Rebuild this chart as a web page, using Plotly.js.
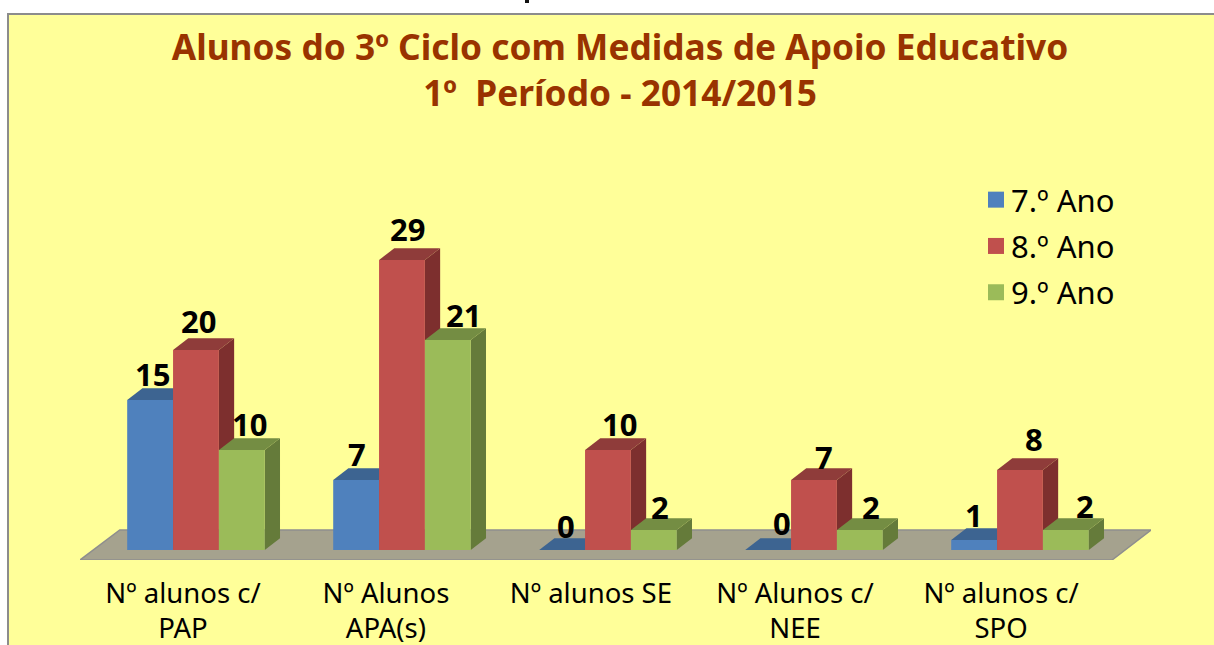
<!DOCTYPE html>
<html><head><meta charset="utf-8">
<script src="https://cdn.plot.ly/plotly-3.0.1.min.js"></script>
<style>
html,body{margin:0;padding:0;background:#fff;width:1214px;height:645px;overflow:hidden}
#panel{position:absolute;left:7px;top:13px;width:1207px;height:632px;background:#FFFF99;border-left:2px solid #8c8c8c;border-top:2px solid #8c8c8c;box-sizing:border-box}
#speck{position:absolute;left:525px;top:0;width:4px;height:3px;background:#111}
#chart{position:absolute;left:0;top:0;width:1214px;height:645px}
</style></head><body>
<div id="speck"></div><div id="panel"></div><div id="chart"></div>
<script>
const categories = ["Nº alunos c/<br>PAP","Nº Alunos<br>APA(s)","Nº alunos SE","Nº Alunos c/<br>NEE","Nº alunos c/<br>SPO"];
const categoryIndex = [0,1,2,3,4];
const tickPositions = [-0.063,0.922,1.917,2.908,3.908];
const seriesNames = ["7.º Ano","8.º Ano","9.º Ano"];
const ano7 = [15,7,0,0,1];
const ano8 = [20,29,10,7,8];
const ano9 = [10,21,2,2,2];
const allValues = [ano7,ano8,ano9];

const front = ["#4F81BD","#C0504D","#9BBB59"];
const topFace = ["#3D6491","#8F3C3A","#748D43"];
const sideFace = ["#2F4E72","#7D2F2E","#657B3A"];
const barW = 0.2226, dX = 0.074, dY = 1.18;
const FF = '"Noto Sans", sans-serif';

const poly = pts => "M" + pts.map(p => p[0] + "," + p[1]).join("L") + "Z";
const shapes = [{type:"path",xref:"x",yref:"y",layer:"below",
  path:poly([[-0.563,-1],[4.447,-1],[4.636,2],[-0.37,2]]),
  fillcolor:"#A5A28E",line:{color:"#8E8E8E",width:1.5}}];
allValues.forEach((vals,s)=>{
  vals.forEach((v,i)=>{
    const x0 = categoryIndex[i] + (s-1.5)*barW, x1 = x0 + barW;
    if (v>0) shapes.push({type:"path",xref:"x",yref:"y",layer:"below",line:{width:0},fillcolor:sideFace[s],
      path:poly([[x1,0],[x1+dX,dY],[x1+dX,v+dY],[x1,v]])});
    shapes.push({type:"path",xref:"x",yref:"y",layer:"below",line:{width:0},fillcolor:topFace[s],
      path:poly([[x0,v],[x1,v],[x1+dX,v+dY],[x0+dX,v+dY]])});
  });
});

const labelNudgeX = [[2,1,4,14,0],[3,6,12,10,14],[8,16,6,11,19]];
const labelNudgeY = [[-9,-9,-11,-8,-10],[-6,-4,-9,-12,-4],[-9,-10,-12,-12,-11]];
const annotations = [];
allValues.forEach((vals,s)=>vals.forEach((v,i)=>{
  annotations.push({x:categoryIndex[i]+(s-1)*barW,y:v+dY,xref:"x",yref:"y",text:String(v),showarrow:false,
    xshift:labelNudgeX[s][i],yanchor:"bottom",yshift:labelNudgeY[s][i],font:{family:FF,size:31,color:"#000",weight:700}});
}));

const traces = [];
allValues.forEach((vals,s)=>{
  traces.push({type:"bar",x:categoryIndex,y:vals,name:seriesNames[s],legendgroup:seriesNames[s],showlegend:false,
    marker:{color:front[s],line:{width:0}},hoverinfo:"x+y+name"});
});
allValues.forEach((vals,s)=>{
  traces.push({type:"scatter",mode:"markers",x:[null],y:[null],name:seriesNames[s],legendgroup:seriesNames[s],
    marker:{symbol:"square",size:17,color:front[s]}});
});

const layout = {
  width:1214,height:645,autosize:false,
  paper_bgcolor:"rgba(0,0,0,0)",plot_bgcolor:"rgba(0,0,0,0)",
  margin:{l:80,r:63,t:200,b:85,pad:0},
  barmode:"group",bargap:1-3*barW,bargroupgap:0,
  title:{text:"Alunos do 3º Ciclo com Medidas de Apoio Educativo<br>1º  Período - 2014/2015",
    x:620/1214,xref:"container",xanchor:"center",y:1-60/645,yref:"container",yanchor:"top",
    font:{family:FF,size:35.3,color:"#993300",weight:700}},
  xaxis:{range:[-0.563,4.636],tickmode:"array",tickvals:tickPositions,ticktext:categories,
    showgrid:false,zeroline:false,showline:false,ticks:"",tickangle:0,automargin:false,ticklabelstandoff:14,
    tickfont:{family:FF,size:27.5,color:"#000"}},
  yaxis:{range:[-1,35],visible:false,showgrid:false,zeroline:false,fixedrange:true},
  legend:{x:(976-80)/1071,xanchor:"left",y:1.075,yanchor:"top",bgcolor:"rgba(0,0,0,0)",
    tracegroupgap:3,traceorder:"grouped",font:{family:FF,size:31,color:"#000"}},
  shapes,annotations
};
Plotly.newPlot("chart",traces,layout,{displayModeBar:false,responsive:false}).then(()=>{
  document.querySelectorAll(".legendtext").forEach(t=>t.setAttribute("transform","translate(-5,0)"));
});
</script></body></html>
